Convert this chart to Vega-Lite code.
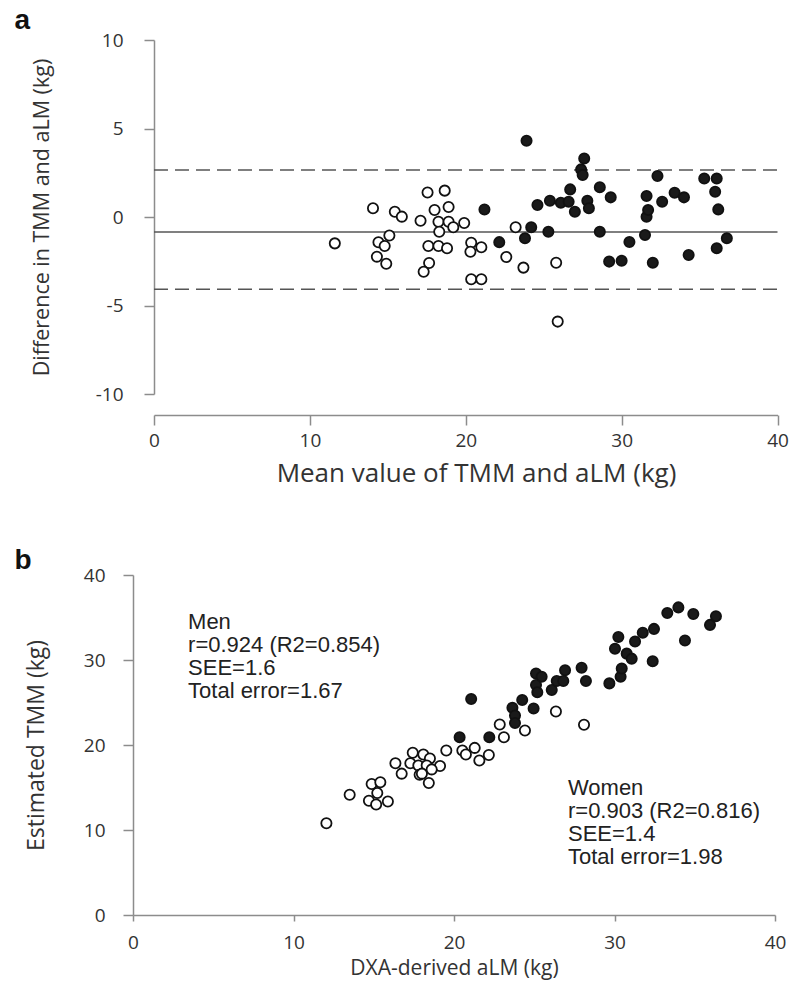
{
  "$schema": "https://vega.github.io/schema/vega-lite/v6.json",
  "background": "white",
  "padding": {"left": 14, "top": 7, "right": 0, "bottom": 5},
  "columns": 1,
  "align": "none",
  "bounds": "full",
  "spacing": 61,
  "datasets": {
    "bland": [
      {"mean": 11.6, "diff": -1.49, "sex": "Women"},
      {"mean": 14.05, "diff": 0.49, "sex": "Women"},
      {"mean": 14.4, "diff": -1.43, "sex": "Women"},
      {"mean": 14.8, "diff": -1.64, "sex": "Women"},
      {"mean": 14.3, "diff": -2.24, "sex": "Women"},
      {"mean": 14.9, "diff": -2.64, "sex": "Women"},
      {"mean": 15.1, "diff": -1.04, "sex": "Women"},
      {"mean": 15.45, "diff": 0.30, "sex": "Women"},
      {"mean": 15.9, "diff": 0.02, "sex": "Women"},
      {"mean": 17.1, "diff": -0.21, "sex": "Women"},
      {"mean": 17.55, "diff": 1.38, "sex": "Women"},
      {"mean": 17.6, "diff": -1.64, "sex": "Women"},
      {"mean": 17.65, "diff": -2.6, "sex": "Women"},
      {"mean": 17.3, "diff": -3.09, "sex": "Women"},
      {"mean": 18.0, "diff": 0.40, "sex": "Women"},
      {"mean": 18.25, "diff": -0.27, "sex": "Women"},
      {"mean": 18.3, "diff": -0.83, "sex": "Women"},
      {"mean": 18.25, "diff": -1.64, "sex": "Women"},
      {"mean": 18.65, "diff": 1.49, "sex": "Women"},
      {"mean": 18.9, "diff": 0.56, "sex": "Women"},
      {"mean": 18.9, "diff": -0.27, "sex": "Women"},
      {"mean": 18.8, "diff": -1.77, "sex": "Women"},
      {"mean": 19.2, "diff": -0.58, "sex": "Women"},
      {"mean": 19.9, "diff": -0.34, "sex": "Women"},
      {"mean": 20.35, "diff": -1.45, "sex": "Women"},
      {"mean": 21.0, "diff": -1.71, "sex": "Women"},
      {"mean": 20.3, "diff": -1.96, "sex": "Women"},
      {"mean": 20.35, "diff": -3.52, "sex": "Women"},
      {"mean": 21.0, "diff": -3.52, "sex": "Women"},
      {"mean": 22.6, "diff": -2.26, "sex": "Women"},
      {"mean": 23.2, "diff": -0.58, "sex": "Women"},
      {"mean": 23.7, "diff": -2.86, "sex": "Women"},
      {"mean": 25.8, "diff": -2.58, "sex": "Women"},
      {"mean": 25.9, "diff": -5.91, "sex": "Women"},
      {"mean": 21.2, "diff": 0.42, "sex": "Men"},
      {"mean": 22.15, "diff": -1.42, "sex": "Men"},
      {"mean": 23.8, "diff": -1.2, "sex": "Men"},
      {"mean": 23.9, "diff": 4.31, "sex": "Men"},
      {"mean": 24.2, "diff": -0.58, "sex": "Men"},
      {"mean": 24.6, "diff": 0.68, "sex": "Men"},
      {"mean": 25.3, "diff": -0.83, "sex": "Men"},
      {"mean": 25.4, "diff": 0.92, "sex": "Men"},
      {"mean": 26.1, "diff": 0.81, "sex": "Men"},
      {"mean": 26.6, "diff": 0.86, "sex": "Men"},
      {"mean": 26.7, "diff": 1.56, "sex": "Men"},
      {"mean": 27.0, "diff": 0.30, "sex": "Men"},
      {"mean": 27.4, "diff": 2.69, "sex": "Men"},
      {"mean": 27.5, "diff": 2.37, "sex": "Men"},
      {"mean": 27.6, "diff": 3.31, "sex": "Men"},
      {"mean": 27.8, "diff": 0.92, "sex": "Men"},
      {"mean": 27.9, "diff": 0.49, "sex": "Men"},
      {"mean": 28.6, "diff": 1.68, "sex": "Men"},
      {"mean": 28.6, "diff": -0.83, "sex": "Men"},
      {"mean": 29.2, "diff": -2.52, "sex": "Men"},
      {"mean": 29.3, "diff": 1.11, "sex": "Men"},
      {"mean": 30.0, "diff": -2.47, "sex": "Men"},
      {"mean": 30.5, "diff": -1.41, "sex": "Men"},
      {"mean": 31.5, "diff": -1.02, "sex": "Men"},
      {"mean": 31.6, "diff": 0.02, "sex": "Men"},
      {"mean": 31.7, "diff": 0.40, "sex": "Men"},
      {"mean": 31.6, "diff": 1.19, "sex": "Men"},
      {"mean": 32.0, "diff": -2.58, "sex": "Men"},
      {"mean": 32.3, "diff": 2.32, "sex": "Men"},
      {"mean": 32.6, "diff": 0.86, "sex": "Men"},
      {"mean": 33.4, "diff": 1.37, "sex": "Men"},
      {"mean": 34.0, "diff": 1.11, "sex": "Men"},
      {"mean": 34.3, "diff": -2.15, "sex": "Men"},
      {"mean": 35.3, "diff": 2.18, "sex": "Men"},
      {"mean": 36.0, "diff": 1.43, "sex": "Men"},
      {"mean": 36.1, "diff": 2.18, "sex": "Men"},
      {"mean": 36.2, "diff": 0.43, "sex": "Men"},
      {"mean": 36.1, "diff": -1.77, "sex": "Men"},
      {"mean": 36.75, "diff": -1.20, "sex": "Men"}
    ],
    "limits": [
      {"value": 2.65, "kind": "upper"},
      {"value": -0.85, "kind": "mean"},
      {"value": -4.08, "kind": "lower"}
    ],
    "corr": [
      {"dxa": 12.05, "tmm": 10.8, "sex": "Women"},
      {"dxa": 13.5, "tmm": 14.14, "sex": "Women"},
      {"dxa": 14.87, "tmm": 15.42, "sex": "Women"},
      {"dxa": 15.41, "tmm": 15.62, "sex": "Women"},
      {"dxa": 15.22, "tmm": 14.35, "sex": "Women"},
      {"dxa": 14.7, "tmm": 13.44, "sex": "Women"},
      {"dxa": 15.15, "tmm": 13.0, "sex": "Women"},
      {"dxa": 15.88, "tmm": 13.36, "sex": "Women"},
      {"dxa": 16.35, "tmm": 17.85, "sex": "Women"},
      {"dxa": 16.74, "tmm": 16.63, "sex": "Women"},
      {"dxa": 17.43, "tmm": 19.08, "sex": "Women"},
      {"dxa": 17.28, "tmm": 17.85, "sex": "Women"},
      {"dxa": 18.09, "tmm": 18.88, "sex": "Women"},
      {"dxa": 17.78, "tmm": 17.6, "sex": "Women"},
      {"dxa": 18.5, "tmm": 18.41, "sex": "Women"},
      {"dxa": 18.3, "tmm": 17.6, "sex": "Women"},
      {"dxa": 19.13, "tmm": 17.52, "sex": "Women"},
      {"dxa": 17.86, "tmm": 16.5, "sex": "Women"},
      {"dxa": 18.0, "tmm": 16.63, "sex": "Women"},
      {"dxa": 18.61, "tmm": 17.13, "sex": "Women"},
      {"dxa": 18.43, "tmm": 15.52, "sex": "Women"},
      {"dxa": 19.52, "tmm": 19.35, "sex": "Women"},
      {"dxa": 20.52, "tmm": 19.35, "sex": "Women"},
      {"dxa": 20.74, "tmm": 18.88, "sex": "Women"},
      {"dxa": 21.29, "tmm": 19.66, "sex": "Women"},
      {"dxa": 21.58, "tmm": 18.18, "sex": "Women"},
      {"dxa": 22.17, "tmm": 18.82, "sex": "Women"},
      {"dxa": 22.85, "tmm": 22.42, "sex": "Women"},
      {"dxa": 23.11, "tmm": 20.91, "sex": "Women"},
      {"dxa": 24.42, "tmm": 21.7, "sex": "Women"},
      {"dxa": 26.35, "tmm": 23.94, "sex": "Women"},
      {"dxa": 28.1, "tmm": 22.38, "sex": "Women"},
      {"dxa": 20.35, "tmm": 20.91, "sex": "Men"},
      {"dxa": 21.07, "tmm": 25.42, "sex": "Men"},
      {"dxa": 22.2, "tmm": 20.91, "sex": "Men"},
      {"dxa": 23.64, "tmm": 24.37, "sex": "Men"},
      {"dxa": 23.8, "tmm": 23.48, "sex": "Men"},
      {"dxa": 23.8, "tmm": 22.6, "sex": "Men"},
      {"dxa": 24.96, "tmm": 24.29, "sex": "Men"},
      {"dxa": 24.25, "tmm": 25.3, "sex": "Men"},
      {"dxa": 25.11, "tmm": 28.41, "sex": "Men"},
      {"dxa": 25.46, "tmm": 28.02, "sex": "Men"},
      {"dxa": 25.11, "tmm": 27.05, "sex": "Men"},
      {"dxa": 25.19, "tmm": 26.2, "sex": "Men"},
      {"dxa": 26.09, "tmm": 26.47, "sex": "Men"},
      {"dxa": 26.4, "tmm": 27.52, "sex": "Men"},
      {"dxa": 26.92, "tmm": 28.8, "sex": "Men"},
      {"dxa": 26.81, "tmm": 27.52, "sex": "Men"},
      {"dxa": 27.95, "tmm": 29.08, "sex": "Men"},
      {"dxa": 28.22, "tmm": 27.52, "sex": "Men"},
      {"dxa": 29.68, "tmm": 27.25, "sex": "Men"},
      {"dxa": 30.38, "tmm": 28.02, "sex": "Men"},
      {"dxa": 30.45, "tmm": 29.0, "sex": "Men"},
      {"dxa": 30.24, "tmm": 32.7, "sex": "Men"},
      {"dxa": 30.03, "tmm": 31.33, "sex": "Men"},
      {"dxa": 30.76, "tmm": 30.75, "sex": "Men"},
      {"dxa": 31.07, "tmm": 30.16, "sex": "Men"},
      {"dxa": 31.28, "tmm": 32.18, "sex": "Men"},
      {"dxa": 31.76, "tmm": 33.2, "sex": "Men"},
      {"dxa": 32.46, "tmm": 33.66, "sex": "Men"},
      {"dxa": 32.38, "tmm": 29.85, "sex": "Men"},
      {"dxa": 33.29, "tmm": 35.53, "sex": "Men"},
      {"dxa": 33.98, "tmm": 36.19, "sex": "Men"},
      {"dxa": 34.91, "tmm": 35.41, "sex": "Men"},
      {"dxa": 34.39, "tmm": 32.3, "sex": "Men"},
      {"dxa": 36.32, "tmm": 35.14, "sex": "Men"},
      {"dxa": 35.95, "tmm": 34.13, "sex": "Men"}
    ]
  },
  "concat": [
    {
      "width": 644.5,
      "height": 354,
      "title": {"text": "a", "anchor": "start", "frame": "group", "dx": -118.5, "offset": -26, "baseline": "alphabetic", "font": "Liberation Sans", "fontSize": 28, "fontWeight": "bold", "color": "#111"},
      "layer": [
        {
          "data": {"name": "limits"},
          "mark": {"type": "rule", "color": "#555", "strokeWidth": 1.5},
          "encoding": {
            "x": {"datum": 0, "type": "quantitative"},
            "x2": {"datum": 40},
            "y": {"field": "value", "type": "quantitative"},
            "strokeDash": {"field": "kind", "type": "nominal", "scale": {"domain": ["mean", "upper", "lower"], "range": [[1, 0], [14, 7], [14, 7]]}, "legend": null}
          }
        },
        {
          "data": {"name": "bland"},
          "mark": {"type": "point", "shape": "circle", "filled": false, "size": 105, "strokeWidth": 1.8, "stroke": "#111", "opacity": 1},
          "encoding": {
            "x": {"field": "mean", "type": "quantitative", "scale": {"domain": [-1.347, 40], "nice": false, "zero": false},
              "axis": {"values": [0, 10, 20, 30, 40], "offset": 21, "tickSize": 10, "labelPadding": 6, "labelFontSize": 19, "labelFlush": false, "titleFontSize": 26, "titlePadding": 10, "domainDash": [0, 21, 623.5, 100], "titleX": 343, "title": "Mean value of TMM and aLM (kg)"}},
            "y": {"field": "diff", "type": "quantitative", "scale": {"domain": [-10, 10], "nice": false},
              "axis": {"values": [-10, -5, 0, 5, 10], "offset": -21, "tickSize": 10, "labelPadding": 21, "labelFontSize": 19, "labelFlush": false, "labelExpr": "'' + datum.value", "titleFontSize": 21.5, "titlePadding": 42, "title": "Difference in TMM and aLM (kg)"}},
            "fill": {"field": "sex", "type": "nominal", "scale": {"domain": ["Men", "Women"], "range": ["#1a1a1a", "#ffffff"]}, "legend": null}
          }
        }
      ]
    },
    {
      "width": 642,
      "height": 340,
      "title": {"text": "b", "anchor": "start", "frame": "group", "dx": -118.5, "offset": -31, "baseline": "alphabetic", "font": "Liberation Sans", "fontSize": 28, "fontWeight": "bold", "color": "#111"},
      "layer": [
        {
          "data": {"name": "corr"},
          "mark": {"type": "point", "shape": "circle", "filled": false, "size": 105, "strokeWidth": 1.8, "stroke": "#111", "opacity": 1},
          "encoding": {
            "x": {"field": "dxa", "type": "quantitative", "scale": {"domain": [0, 40], "nice": false},
              "axis": {"values": [0, 10, 20, 30, 40], "tickSize": 6, "labelPadding": 12, "labelFontSize": 19, "labelFlush": false, "titleFontSize": 21, "titlePadding": 5, "title": "DXA-derived aLM (kg)"}},
            "y": {"field": "tmm", "type": "quantitative", "scale": {"domain": [0, 40], "nice": false},
              "axis": {"values": [0, 10, 20, 30, 40], "tickSize": 10, "labelPadding": 18, "labelFontSize": 19, "labelFlush": false, "titleFontSize": 23, "titlePadding": 35, "title": "Estimated TMM (kg)"}},
            "fill": {"field": "sex", "type": "nominal", "scale": {"domain": ["Men", "Women"], "range": ["#1a1a1a", "#ffffff"]}, "legend": null}
          }
        },
        {
          "data": {"values": [{}]},
          "mark": {"type": "text", "align": "left", "baseline": "top", "font": "Liberation Sans", "fontSize": 22, "lineHeight": 23, "color": "#222"},
          "encoding": {
            "x": {"datum": 3.43, "type": "quantitative"},
            "y": {"datum": 35.65, "type": "quantitative"},
            "text": {"value": ["Men", "r=0.924 (R2=0.854)", "SEE=1.6", "Total error=1.67"]}
          }
        },
        {
          "data": {"values": [{}]},
          "mark": {"type": "text", "align": "left", "baseline": "top", "font": "Liberation Sans", "fontSize": 22, "lineHeight": 23, "color": "#222"},
          "encoding": {
            "x": {"datum": 27.1, "type": "quantitative"},
            "y": {"datum": 16.15, "type": "quantitative"},
            "text": {"value": ["Women", "r=0.903 (R2=0.816)", "SEE=1.4", "Total error=1.98"]}
          }
        }
      ]
    }
  ],
  "config": {
    "view": {"stroke": null},
    "axis": {"grid": false, "domainColor": "#8c8c8c", "tickColor": "#8c8c8c", "domainWidth": 1.5, "tickWidth": 1.5, "labelColor": "#333", "titleColor": "#333", "labelFont": "Open Sans", "titleFont": "Open Sans", "titleFontWeight": "normal"}
  }
}
